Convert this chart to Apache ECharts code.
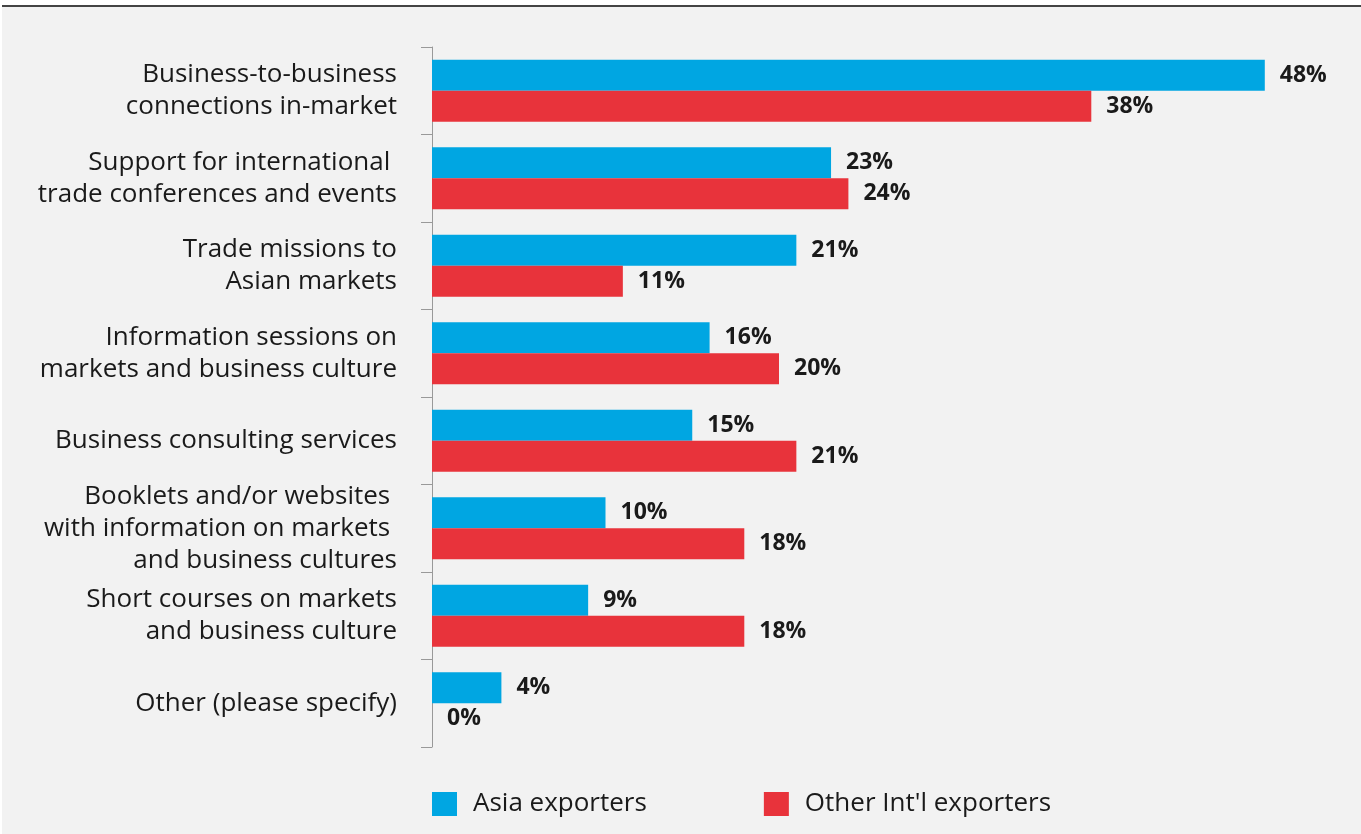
<!DOCTYPE html>
<html>
<head>
<meta charset="utf-8">
<script src="https://cdn.jsdelivr.net/npm/echarts@6/dist/echarts.min.js"></script>
<style>
  html, body { margin: 0; padding: 0; background: #ffffff; }
  #topline { position: absolute; left: 2px; top: 5px; width: 1359px; height: 2px; background: #444444; }
  #chart { position: absolute; left: 2px; top: 7px; width: 1359px; height: 827px; background: #f2f2f2; }
</style>
</head>
<body>
<div id="topline"></div>
<div id="chart"></div>
<script>
// Survey categories (top to bottom)
const categories = [
  'Business-to-business\nconnections in-market',
  'Support for international \ntrade conferences and events',
  'Trade missions to\nAsian markets',
  'Information sessions on\nmarkets and business culture',
  'Business consulting services',
  'Booklets and/or websites \nwith information on markets \nand business cultures',
  'Short courses on markets\nand business culture',
  'Other (please specify)'
];
// Share of respondents (%)
const asiaExporters = [48, 23, 21, 16, 15, 10, 9, 4];
const otherExporters = [38, 24, 11, 20, 21, 18, 18, 0];
const seriesNames = ['Asia exporters', "Other Int'l exporters"];

const fontFamily = '"Open Sans", "Noto Sans", sans-serif';
const labelStyle = {
  show: true,
  position: 'right',
  distance: 15,
  formatter: '{c}%',
  fontFamily: fontFamily,
  fontWeight: 'bold',
  fontSize: 23,
  color: '#1a1a1a'
};

const chart = echarts.init(document.getElementById('chart'));
chart.setOption({
  animation: false,
  backgroundColor: '#f2f2f2',
  grid: { left: 430, top: 40, width: 867.5, height: 700, containLabel: false },
  xAxis: { type: 'value', min: 0, max: 50, show: false },
  yAxis: {
    type: 'category',
    inverse: true,
    data: categories,
    axisLine: { show: true, lineStyle: { color: '#999999', width: 1 } },
    axisTick: { show: true, length: 11, lineStyle: { color: '#999999' } },
    axisLabel: {
      margin: 35,
      fontFamily: fontFamily,
      fontSize: 26,
      lineHeight: 32,
      padding: [6, 0, 0, 0],
      color: '#1a1a1a',
      align: 'right'
    }
  },
  legend: {
    left: 425,
    top: 779,
    itemWidth: 25,
    itemHeight: 24,
    itemGap: 117,
    icon: 'rect',
    textStyle: { fontFamily: fontFamily, fontSize: 26, color: '#1a1a1a', padding: [0, 0, 0, 11] },
    data: seriesNames
  },
  series: [
    {
      name: seriesNames[0],
      type: 'bar',
      data: asiaExporters,
      barWidth: 31,
      barGap: '0%',
      itemStyle: { color: '#00a6e2' },
      label: labelStyle
    },
    {
      name: seriesNames[1],
      type: 'bar',
      data: otherExporters,
      barWidth: 31,
      itemStyle: { color: '#e8333b' },
      label: labelStyle
    }
  ]
});
</script>
</body>
</html>
